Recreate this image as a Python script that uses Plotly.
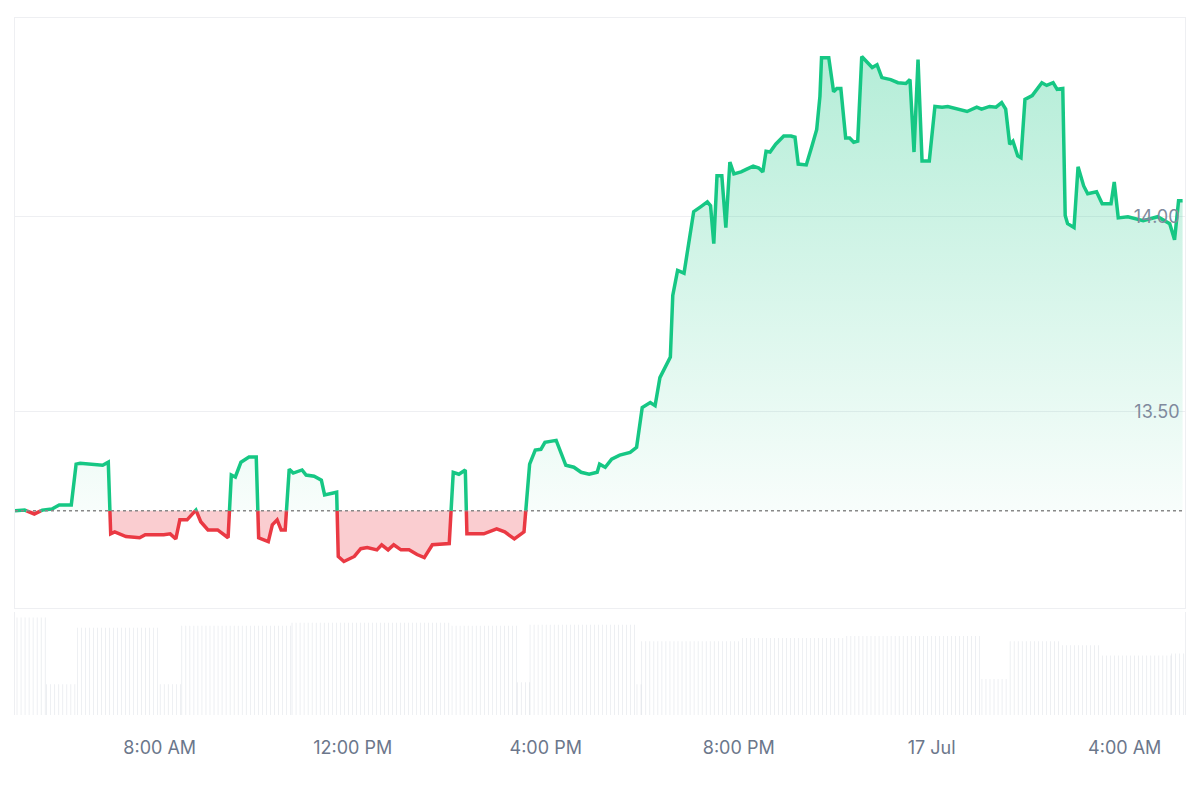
import pandas as pd
import plotly.graph_objects as go
from plotly.subplots import make_subplots

# price readings: minutes after 05:00 on 16 Jul, price
minutes = [0, 12, 24, 34, 46, 55, 70, 76, 81, 101, 109, 116, 119, 124, 138, 155, 162, 185, 193, 200,
           205, 214, 225, 231, 240, 252, 265, 269, 274, 281, 291, 300, 303, 315, 320, 326, 331, 336, 341, 346,
           357, 362, 372, 381, 385, 400, 402, 409, 422, 430, 438, 450, 456, 464, 471, 480, 490, 500, 509, 519,
           540, 545, 552, 560, 562, 583, 599, 609, 621, 633, 640, 647, 654, 659, 673, 685, 695, 704, 714, 724,
           727, 734, 742, 752, 765, 773, 780, 790, 796, 802, 812, 815, 818, 824, 832, 837, 844, 853, 861, 865,
           869, 873, 879, 884, 889, 894, 903, 910, 918, 925, 930, 934, 939, 946, 956, 965, 970, 974, 980, 984,
           991, 997, 1001, 1003, 1012, 1018, 1022, 1027, 1033, 1038, 1043, 1048, 1053, 1061, 1066, 1072, 1078, 1089, 1098, 1108,
           1113, 1118, 1123, 1128, 1137, 1144, 1153, 1160, 1174, 1184, 1196, 1202, 1212, 1220, 1227, 1232, 1237, 1241, 1247, 1251,
           1256, 1265, 1277, 1283, 1291, 1296, 1303, 1306, 1309, 1317, 1322, 1329, 1334, 1345, 1352, 1363, 1367, 1372, 1384, 1403,
           1421, 1436, 1442, 1447, 1452]
prices = [13.245, 13.247, 13.237, 13.247, 13.250, 13.260, 13.260, 13.365, 13.367, 13.365, 13.362, 13.370, 13.186, 13.191, 13.179, 13.176, 13.184, 13.184, 13.186, 13.173,
          13.222, 13.222, 13.247, 13.217, 13.196, 13.196, 13.176, 13.337, 13.332, 13.370, 13.383, 13.383, 13.176, 13.166, 13.209, 13.222, 13.196, 13.196, 13.352, 13.342,
          13.350, 13.337, 13.334, 13.324, 13.286, 13.293, 13.128, 13.115, 13.128, 13.148, 13.151, 13.145, 13.158, 13.145, 13.158, 13.145, 13.145, 13.133, 13.125, 13.158,
          13.161, 13.344, 13.339, 13.350, 13.186, 13.186, 13.199, 13.191, 13.173, 13.191, 13.365, 13.401, 13.403, 13.421, 13.426, 13.362, 13.357, 13.344, 13.339, 13.344,
          13.365, 13.357, 13.378, 13.388, 13.395, 13.408, 13.510, 13.523, 13.515, 13.587, 13.625, 13.640, 13.798, 13.862, 13.855, 13.926, 14.013, 14.026, 14.038, 14.028,
          13.931, 14.105, 14.105, 13.972, 14.140, 14.110, 14.115, 14.122, 14.130, 14.125, 14.115, 14.168, 14.166, 14.186, 14.207, 14.207, 14.204, 14.135, 14.135, 14.133,
          14.181, 14.224, 14.309, 14.408, 14.408, 14.321, 14.329, 14.329, 14.202, 14.202, 14.191, 14.194, 14.411, 14.395, 14.383, 14.390, 14.357, 14.352, 14.344, 14.342,
          14.352, 14.166, 14.403, 14.143, 14.143, 14.283, 14.281, 14.283, 14.276, 14.270, 14.281, 14.276, 14.283, 14.281, 14.293, 14.276, 14.186, 14.194, 14.156, 14.151,
          14.301, 14.311, 14.344, 14.337, 14.344, 14.327, 14.329, 14.003, 13.982, 13.972, 14.128, 14.079, 14.059, 14.064, 14.033, 14.033, 14.089, 13.997, 14.000, 13.990,
          14.000, 13.982, 13.941, 14.041, 14.041]

# volume readings: segment start minute, end minute, relative volume
vol_start = [0, 37, 75, 178, 205, 342, 541, 622, 638, 771, 777, 902, 1032, 1200, 1235, 1300, 1350, 1436]
vol_end = [37, 75, 178, 205, 342, 541, 622, 638, 771, 777, 902, 1032, 1200, 1235, 1300, 1350, 1436, 1455]
vol_value = [95, 30, 85, 30, 87, 90, 87, 32, 88, 30, 72, 75, 77, 35, 72, 68, 58, 60]

tick_labels = ["8:00 AM", "12:00 PM", "4:00 PM", "8:00 PM", "17 Jul", "4:00 AM"]
tick_times = ["2024-07-16 08:00", "2024-07-16 12:00", "2024-07-16 16:00",
              "2024-07-16 20:00", "2024-07-17 00:00", "2024-07-17 04:00"]

start = pd.Timestamp("2024-07-16 05:00")
base = prices[0]

# insert crossing points at the baseline so colours split cleanly
tm, pr = [], []
for i in range(len(prices)):
    if i > 0:
        a, b = prices[i - 1], prices[i]
        if (a - base) * (b - base) < 0:
            f = (base - a) / (b - a)
            tm.append(minutes[i - 1] + f * (minutes[i] - minutes[i - 1]))
            pr.append(base)
    tm.append(minutes[i])
    pr.append(prices[i])
ts = [start + pd.Timedelta(minutes=m) for m in tm]

green = "#16c784"
red = "#ea3943"

fig = make_subplots(rows=2, cols=1, shared_xaxes=True, vertical_spacing=0.006,
                    row_heights=[0.852, 0.148])

fig.add_trace(go.Scatter(x=ts, y=[base] * len(ts), mode="lines", line=dict(width=0),
                         hoverinfo="skip", showlegend=False), row=1, col=1)
fig.add_trace(go.Scatter(x=ts, y=[max(p, base) for p in pr], mode="lines", line=dict(width=0),
                         fill="tonexty",
                         fillgradient=dict(type="vertical", start=base, stop=14.45,
                                           colorscale=[[0, "rgba(22,199,132,0.03)"], [1, "rgba(22,199,132,0.33)"]]),
                         hoverinfo="skip", showlegend=False), row=1, col=1)
fig.add_trace(go.Scatter(x=ts, y=[base] * len(ts), mode="lines", line=dict(width=0),
                         hoverinfo="skip", showlegend=False), row=1, col=1)
fig.add_trace(go.Scatter(x=ts, y=[min(p, base) for p in pr], mode="lines", line=dict(width=0),
                         fill="tonexty", fillcolor="rgba(234,57,67,0.25)",
                         hoverinfo="skip", showlegend=False), row=1, col=1)

gy = [p if p >= base else None for p in pr]
ry = [p if p <= base else None for p in pr]
fig.add_trace(go.Scatter(x=ts, y=gy, mode="lines", line=dict(color=green, width=3.5),
                         connectgaps=False, showlegend=False), row=1, col=1)
fig.add_trace(go.Scatter(x=ts, y=ry, mode="lines", line=dict(color=red, width=3.5),
                         connectgaps=False, showlegend=False), row=1, col=1)

# volume bars every 5 minutes
vx, vy = [], []
for s, e, v in zip(vol_start, vol_end, vol_value):
    m = s
    while m < e:
        vx.append(start + pd.Timedelta(minutes=m + 2.5))
        vy.append(v)
        m += 5
fig.add_trace(go.Bar(x=vx, y=vy, marker_color="rgba(200,205,215,0.7)", marker_line_width=0,
                     showlegend=False), row=2, col=1)

fig.add_hline(y=base, line=dict(color="#888", width=1.5, dash="dot"), row=1, col=1)

xr = [start, start + pd.Timedelta(minutes=1455)]
fig.update_xaxes(range=xr, showgrid=False, zeroline=False)
fig.update_xaxes(showline=True, linecolor="#eeeff2", mirror=True, showticklabels=False, row=1, col=1)
fig.update_xaxes(tickvals=tick_times, ticktext=tick_labels, ticks="", ticklabelstandoff=20,
                 tickfont=dict(family="Inter, Liberation Sans", size=18, color="#6c778b"),
                 showline=False, row=2, col=1)
fig.update_yaxes(range=[12.995, 14.51], tickvals=[13.5, 14.0], ticktext=["13.50", "14.00"],
                 side="right", ticklabelposition="inside", gridcolor="#eeeff2", zeroline=False,
                 showline=True, linecolor="#eeeff2", mirror=True, ticklabelstandoff=6,
                 tickfont=dict(family="Inter, Liberation Sans", size=18, color="#808a9d"), row=1, col=1)
fig.update_yaxes(range=[0, 100], showticklabels=False, showgrid=False, zeroline=False,
                 showline=True, linecolor="#eeeff2", mirror=True, row=2, col=1)

fig.update_layout(width=1200, height=800, margin=dict(l=7, r=23, t=10, b=93),
                  plot_bgcolor="white", paper_bgcolor="white", bargap=0.45)

fig.write_html("out.html")
